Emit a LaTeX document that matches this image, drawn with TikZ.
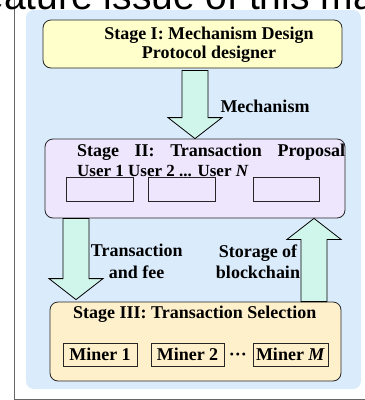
\documentclass[tikz,border=0pt]{standalone}
\usepackage{fontspec}
\setmainfont{Liberation Serif}
\newfontfamily\headfont{Liberation Sans}
\usetikzlibrary{calc}

\definecolor{bgblue}{RGB}{218,235,252}
\definecolor{stIfill}{RGB}{255,255,204}
\definecolor{stIIfill}{RGB}{237,230,252}
\definecolor{stIIIfill}{RGB}{255,240,204}
\definecolor{arrowfill}{RGB}{208,246,236}

\tikzset{
    stage/.style={draw=black!85, line width=0.8pt, rounded corners=8pt, inner sep=0pt},
    userbox/.style={draw=black!85, line width=0.7pt, inner sep=0pt, minimum height=24pt},
    minerbox/.style={draw=black!85, line width=0.7pt, inner sep=0pt, minimum height=23pt,
        font=\bfseries\fontsize{18}{19}\selectfont},
    txt/.style={font=\bfseries\fontsize{18}{19}\selectfont, inner sep=0pt, anchor=base},
    fatarrow/.style={draw=black, line width=0.8pt, fill=arrowfill},
}

\newcommand\blockarrow[2]{%
    \draw[fatarrow] let \p1=(#1), \p2=(#2), \n1={21*sign(\y2-\y1)} in
        ({\x1-13pt},\y1) -- ({\x1+13pt},\y1) -- ({\x1+13pt},{\y2-(\n1)*1pt})
        -- ({\x1+27pt},{\y2-(\n1)*1pt}) -- (\x2,\y2) -- ({\x1-27pt},{\y2-(\n1)*1pt})
        -- ({\x1-13pt},{\y2-(\n1)*1pt}) -- cycle;}

\begin{document}
\begin{tikzpicture}[x=1pt,y=-1pt]
    \useasboundingbox (0,0) rectangle (365,400);
    \clip (0,0) rectangle (365,400);

    \draw[black!60, line width=1pt] (14,-10) rectangle (380,399);
    \node[font=\headfont\fontsize{39}{39}\selectfont, anchor=base west, inner sep=0pt] (head)
        at (-28.5,9.5) {feature issue of this magazine};
    \fill[bgblue, rounded corners=8pt] (26,10) rectangle (361,389);

    \node[stage, fill=stIfill, minimum width=299pt, minimum height=48pt] (stI) at (192.5,44) {};
    \node[stage, fill=stIIfill, minimum width=300pt, minimum height=79pt] (stII) at (195,178.5) {};
    \node[stage, fill=stIIIfill, minimum width=291pt, minimum height=79pt] (stIII) at (195.5,341.5) {};

    \node[txt] (stItitle) at (209,39) {Stage I: Mechanism Design};
    \node[txt] (stIrole) at (209,58) {Protocol designer};

    \node[txt, anchor=base west] (stIItitle) at (77,156) {\makebox[268pt][s]{Stage II: Transaction Proposal}};
    \node[txt, anchor=base west, font=\bfseries\fontsize{17}{19}\selectfont] (users) at (77,176) {User 1 User 2 ... User \textit{N}};
    \node[userbox, minimum width=67pt] (u1) at (99.5,189) {};
    \node[userbox, minimum width=67pt] (u2) at (181.5,189) {};
    \node[userbox, minimum width=66pt] (u3) at (286,189) {};

    \node[txt] (stIIItitle) at (194.7,318) {Stage III: Transaction Selection};
    \node[minerbox, minimum width=74pt] (m1) at (100,354.5) {Miner 1};
    \node[minerbox, minimum width=73pt] (m2) at (187.5,354.5) {Miner 2};
    \node[txt] (dots) at (238,360) {···};
    \node[minerbox, minimum width=75pt] (m3) at (290.5,354.5) {Miner \textit{M}};

    \coordinate (a1s) at ($(stI.south -| stII.north)+(0,2)$);
    \coordinate (a1e) at (stII.north);
    \coordinate (a2s) at ($(stII.south)+(-119,0)$);
    \coordinate (a2e) at ($(stIII.north)+(-119.5,-2)$);
    \coordinate (a3s) at ($(stIII.north)+(118.5,0)$);
    \coordinate (a3e) at ($(stII.south)+(119,0)$);
    \blockarrow{a1s}{a1e}
    \blockarrow{a2s}{a2e}
    \blockarrow{a3s}{a3e}

    \node[txt] (mech) at (265,112) {Mechanism};
    \node[txt] (tx1) at (136.7,256) {Transaction};
    \node[txt] (tx2) at (136.7,278) {and fee};
    \node[txt] (st1) at (258,257) {Storage of};
    \node[txt] (st2) at (258,278) {blockchain};
\end{tikzpicture}
\end{document}
